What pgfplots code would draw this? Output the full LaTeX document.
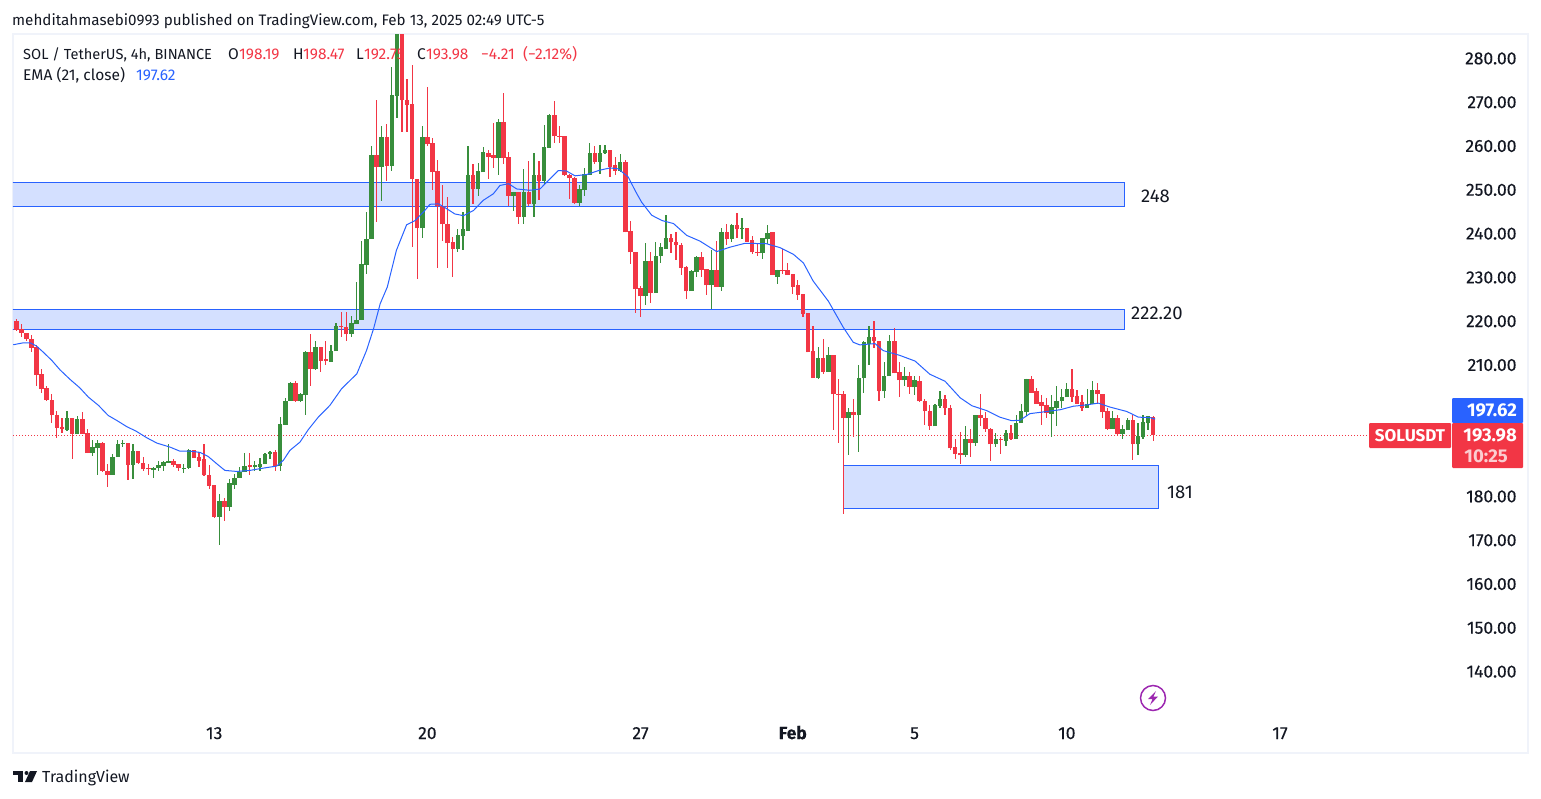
\documentclass[border=0pt]{standalone}
\usepackage{fontspec}
\setmainfont{Fira Sans}
\newfontfamily\med[FakeBold=0.25]{Fira Sans}
\usepackage{pgfplots}
\pgfplotsset{compat=1.18}
\usepackage{pgfplotstable}

\definecolor{tvred}{HTML}{F23645}
\definecolor{tvgreen}{HTML}{388E3C}
\definecolor{tvblue}{HTML}{2962FF}
\definecolor{tvzone}{HTML}{D4E0FF}
\definecolor{tvtext}{HTML}{131722}
\definecolor{tvframe}{HTML}{F0F3FA}
\definecolor{tvpurple}{HTML}{9C27B0}

% 4h candles: index, open, high, low, close
\pgfplotstableread{
i o h l c
0 220.0 220.4 217.7 218.1
1 218.3 219.3 216.4 217.3
2 217.4 217.4 215.6 215.9
3 216.0 216.8 213.0 213.9
4 214.1 214.5 205.3 207.7
5 207.9 209.2 203.6 204.5
6 204.7 205.1 201.9 202.0
7 202.1 203.3 196.8 198.5
8 198.7 199.6 193.3 195.7
9 195.8 198.0 194.5 195.5
11 197.8 198.0 188.5 194.2
13 197.6 199.2 194.2 194.2
14 194.4 195.5 189.9 189.9
17 192.3 192.4 185.7 185.8
18 185.9 187.5 182.1 184.9
22 192.1 192.2 183.7 187.2
24 190.3 190.4 187.5 187.6
25 187.7 188.9 185.8 186.2
26 186.4 187.4 185.0 186.2
31 188.2 188.6 186.7 187.2
32 187.3 187.4 185.8 186.5
35 190.5 190.6 188.8 188.8
36 188.9 190.1 186.7 188.2
37 188.5 192.0 184.6 184.8
38 185.0 187.1 181.7 182.4
39 182.5 182.5 175.2 175.3
41 178.9 179.7 174.5 177.6
46 187.2 190.0 184.8 186.8
51 190.1 190.7 185.9 186.9
55 205.8 206.3 201.5 201.8
58 212.9 217.2 205.3 209.0
60 214.2 214.2 208.5 211.0
61 211.3 215.4 209.9 211.0
64 218.9 222.2 216.5 218.7
65 218.6 222.0 215.6 217.0
71 257.9 270.6 242.6 255.2
73 262.0 265.1 252.1 255.4
76 290.0 291.0 263.2 270.4
77 270.6 275.4 263.2 269.4
78 269.5 278.4 237.0 252.4
79 252.4 252.4 229.6 241.2
81 262.0 273.4 260.1 260.4
82 260.6 261.8 250.0 254.0
83 254.2 256.9 232.1 246.3
84 246.4 251.0 238.3 242.1
85 242.3 248.4 232.1 237.8
86 238.0 239.2 230.0 236.6
90 253.5 256.0 246.7 250.1
93 258.5 259.0 252.4 257.6
94 257.9 265.2 254.9 257.2
96 265.4 272.0 255.8 257.2
97 257.4 258.6 246.4 248.7
99 249.6 249.6 242.3 243.9
101 249.4 256.5 246.4 246.7
103 253.3 256.5 247.6 252.1
106 267.0 270.2 260.8 262.2
107 262.4 264.5 260.8 262.2
108 262.2 262.4 253.1 253.3
109 253.5 253.7 248.0 252.6
110 252.8 252.9 246.7 247.1
114 258.5 259.9 255.9 256.3
117 259.0 259.0 252.9 255.3
118 255.6 257.6 253.3 254.4
120 256.3 256.7 240.3 240.3
121 240.5 242.8 233.0 235.7
122 235.9 235.9 221.8 227.3
123 227.5 228.0 220.9 225.7
125 233.7 235.9 224.1 226.4
129 238.9 240.0 235.5 238.0
130 238.2 240.3 233.9 237.3
131 237.5 237.8 230.5 232.1
132 232.3 232.7 225.0 226.8
135 234.6 235.9 230.2 231.8
136 232.0 232.0 226.1 228.2
138 231.8 238.4 227.9 227.9
140 240.3 242.1 237.3 238.7
142 241.9 244.8 239.1 241.0
144 241.2 241.2 238.2 238.2
145 238.5 239.4 235.3 235.7
146 235.7 237.7 235.0 235.5
149 240.3 240.3 230.5 230.5
151 231.8 236.6 230.7 231.4
152 231.6 233.2 230.5 230.5
153 230.7 230.7 226.3 227.9
154 228.2 229.5 224.8 226.1
155 226.3 226.3 220.9 221.6
156 221.8 221.8 212.9 212.9
157 213.1 219.0 207.0 207.0
159 211.7 215.9 207.9 208.5
161 212.2 212.2 195.1 203.3
162 203.4 206.7 192.3 203.3
163 203.5 204.0 175.9 197.8
165 199.2 202.2 193.5 198.5
169 216.3 220.0 214.0 215.4
170 215.6 215.6 201.9 204.0
173 215.6 218.4 208.1 208.1
174 208.3 210.6 202.6 206.5
176 207.4 208.3 203.5 204.9
178 206.3 207.6 201.5 201.7
179 201.7 202.2 196.4 199.4
180 199.6 200.8 195.1 196.0
183 202.2 203.1 198.7 200.1
184 200.3 200.8 190.5 191.0
185 191.2 193.0 188.5 189.8
186 190.0 194.6 187.5 189.4
188 193.2 195.3 189.1 192.3
190 198.5 203.5 196.0 197.8
191 198.0 199.2 194.6 195.3
192 195.5 195.7 188.2 191.9
194 193.0 193.5 189.8 192.8
196 194.4 196.4 192.8 193.2
200 206.9 207.4 203.7 203.7
201 204.0 204.7 201.2 201.2
202 201.5 203.1 196.4 200.6
203 200.8 202.4 197.8 199.0
208 204.6 209.0 201.5 202.8
209 203.0 204.4 201.2 201.2
210 201.5 203.1 199.4 200.3
213 204.4 206.0 201.2 203.3
214 203.5 203.5 197.8 199.2
215 199.4 200.1 195.3 195.5
217 198.0 198.5 193.9 194.2
220 197.4 198.5 188.4 191.9
224 198.19 198.47 192.75 193.98
}\redcandles

\pgfplotstableread{
i o h l c
10 195.2 199.6 194.9 197.8
12 194.2 198.3 194.2 197.6
15 189.9 192.8 189.2 191.2
16 191.0 192.9 185.0 192.3
19 184.9 189.6 184.9 189.1
20 189.0 192.9 189.0 191.9
21 192.0 192.9 191.3 192.1
23 187.2 192.0 184.0 190.3
27 186.0 186.8 184.2 186.6
28 186.4 188.2 185.8 187.1
29 186.9 188.2 185.8 187.8
30 187.6 191.9 187.6 188.2
33 186.5 187.3 185.3 186.6
34 186.5 190.9 186.3 190.5
40 175.3 180.5 168.8 178.9
42 177.6 183.9 176.7 183.0
43 182.7 185.2 181.7 184.2
44 184.2 186.8 184.1 185.6
45 185.5 190.0 185.5 187.0
47 186.7 188.1 185.9 187.1
48 186.8 188.8 185.9 187.5
49 187.4 189.9 187.3 189.7
50 189.7 190.4 188.5 190.1
52 186.9 198.1 185.9 196.6
53 196.4 202.4 196.4 201.9
54 201.8 206.1 201.7 205.8
56 201.7 203.6 201.5 203.3
57 203.1 213.1 198.5 212.9
59 209.0 215.4 208.8 214.2
62 210.8 214.5 210.8 213.3
63 213.1 219.7 213.1 218.8
66 217.0 221.3 216.5 219.5
67 219.3 228.9 219.3 220.3
68 220.3 238.3 220.2 233.0
69 232.8 244.9 230.8 238.8
70 238.7 260.1 238.7 257.9
72 255.2 264.6 247.4 262.0
74 255.4 278.0 254.3 271.6
75 271.4 292.0 266.3 290.0
80 241.2 264.5 239.1 262.0
87 236.6 241.0 235.7 239.6
88 239.4 244.9 236.2 241.0
89 240.7 260.1 240.5 253.5
91 250.1 256.1 248.5 254.2
92 254.0 259.8 254.0 258.6
95 257.2 266.2 253.3 265.4
98 248.7 249.6 245.1 249.6
100 243.9 254.8 242.3 249.4
102 246.7 258.5 243.7 253.3
104 252.1 264.7 251.0 259.7
105 259.5 267.4 259.5 267.0
111 247.1 251.0 246.4 250.1
112 249.9 254.9 248.5 253.7
113 253.5 260.8 253.3 258.5
115 256.3 260.2 253.7 258.5
116 258.3 260.2 258.2 259.0
119 254.4 258.1 254.0 256.3
124 225.7 237.8 223.8 233.7
126 226.4 238.0 226.4 235.0
127 234.8 237.8 233.2 236.9
128 236.6 244.2 236.6 238.9
133 226.8 231.6 226.8 231.4
134 231.2 234.8 230.0 234.6
137 228.2 236.2 222.7 231.8
139 227.9 241.2 226.8 240.3
141 238.7 242.1 238.0 241.9
143 241.0 243.5 238.7 241.2
147 235.5 239.1 234.3 238.9
148 238.7 241.9 237.7 240.1
150 230.2 231.8 228.4 231.8
158 207.0 214.1 206.7 211.7
160 208.5 214.2 208.3 212.2
164 197.8 200.1 189.4 199.2
166 198.5 210.1 190.1 207.1
167 207.0 215.4 203.7 215.2
168 214.9 218.8 209.9 216.3
171 204.0 210.8 202.4 207.6
172 207.4 216.8 207.4 215.6
175 206.5 209.5 205.1 207.4
177 204.9 207.4 203.1 206.5
181 196.0 201.2 196.0 200.8
182 200.6 204.0 200.3 202.2
187 189.4 196.0 189.1 193.2
189 192.3 198.7 191.6 198.5
193 191.9 194.4 191.4 193.0
195 192.6 195.1 191.6 194.4
197 193.2 198.5 193.2 196.8
198 196.7 201.0 196.7 199.4
199 199.2 206.9 198.3 206.9
204 198.9 203.1 193.5 200.5
205 200.3 205.1 196.0 201.9
206 201.7 204.6 200.1 202.8
207 202.6 206.0 202.6 204.6
211 200.3 204.6 200.1 201.2
212 201.0 206.3 201.0 204.4
216 195.5 199.6 195.5 198.0
218 194.2 196.2 193.2 195.3
219 195.1 198.0 195.1 197.4
221 191.9 196.7 189.4 193.7
222 193.5 198.5 193.0 196.9
223 196.7 198.3 195.1 198.3
}\greencandles

\newcommand{\txt}[4][tvtext]{\node[anchor=base west,inner sep=0pt,text=#1] at (#2pt,-#3pt) {#4};}

\begin{document}
\begin{tikzpicture}
\path (0pt,0pt) rectangle (1541pt,-798pt);
\begin{axis}[
    at={(13pt,-34pt)}, anchor=north west,
    scale only axis,
    width=1515pt, height=719pt,
    xmin=-0.65, xmax=297.87,
    ymin=121.42, ymax=285.58,
    axis line style={color=tvframe, line width=2pt},
    tick style={draw=none},
    xtick={39,81,123,153,177,207,249},
    xticklabels={13,20,27,\textbf{Feb},5,10,17},
    xticklabel style={anchor=base, yshift=14pt, text=tvtext, font=\fontsize{17.5}{20}\med},
    ytick={140,150,160,170,180,210,220,230,240,250,260,270,280},
    yticklabel pos=right,
    yticklabel style={anchor=east, xshift=-8pt, text=tvtext, font=\fontsize{17.5}{20}\med,
        /pgf/number format/.cd, fixed, fixed zerofill, precision=2, assume math mode=true},
]
% zones
\addplot[draw=none, fill=tvzone, forget plot] coordinates {(-5,251.6)(218.26,251.6)(218.26,246.3)(-5,246.3)} -- cycle;
\addplot[draw=none, fill=tvzone, forget plot] coordinates {(-5,222.6)(218.26,222.6)(218.26,218.05)(-5,218.05)} -- cycle;
\addplot[draw=none, fill=tvzone, forget plot] coordinates {(163,187)(225,187)(225,177.2)(163,177.2)} -- cycle;
\addplot[draw=tvblue, line width=1pt, forget plot] coordinates {(-5,251.6)(218.26,251.6)(218.26,246.3)(-5,246.3)};
\addplot[draw=tvblue, line width=1pt, forget plot] coordinates {(-5,222.6)(218.26,222.6)(218.26,218.05)(-5,218.05)};
\addplot[draw=tvblue, line width=1pt, forget plot] coordinates {(163,187)(225,187)(225,177.2)(163,177.2)};
% last price line
\addplot[tvred, line width=1pt, dash pattern=on 1pt off 2pt, forget plot] coordinates {(-0.65,193.98)(266.3,193.98)};
% wicks
\addplot[draw=none, forget plot, error bars/.cd, y dir=both, y explicit, error mark=none,
    error bar style={draw=tvred, line width=1.2pt}]
    table[x=i, y=c, y error plus expr=\thisrow{h}-\thisrow{c}, y error minus expr=\thisrow{c}-\thisrow{l}] {\redcandles};
\addplot[draw=none, forget plot, error bars/.cd, y dir=both, y explicit, error mark=none,
    error bar style={draw=tvgreen, line width=1.2pt}]
    table[x=i, y=c, y error plus expr=\thisrow{h}-\thisrow{c}, y error minus expr=\thisrow{c}-\thisrow{l}] {\greencandles};
% bodies
\addplot[draw=none, forget plot, error bars/.cd, y dir=plus, y explicit, error mark=none,
    error bar style={draw=tvred, line width=4.5pt}]
    table[x=i, y=c, y error plus expr=\thisrow{o}-\thisrow{c}] {\redcandles};
\addplot[draw=none, forget plot, error bars/.cd, y dir=plus, y explicit, error mark=none,
    error bar style={draw=tvgreen, line width=4.5pt}]
    table[x=i, y=o, y error plus expr=\thisrow{c}-\thisrow{o}] {\greencandles};
% EMA 21
\addplot[tvblue, line width=1pt, forget plot] coordinates {
(-0.6,214.63)(1.4,215.08)(2.7,215.08)(4.0,214.32)(5.3,212.95)(7.0,211.05)(8.6,208.92)(10.6,206.71)
(12.5,204.81)(14.2,202.68)(16.2,200.78)(18.1,198.49)(19.8,197.35)(21.7,195.98)(23.7,194.84)(25.7,193.4)
(27.7,192.18)(30.3,191.26)(32.2,190.35)(34.2,190.35)(36.2,190.05)(37.8,189.13)(39.5,187.46)(41.1,185.94)
(43.4,185.71)(46.0,185.94)(48.7,186.47)(51.3,186.93)(52.6,188.22)(53.9,190.5)(55.9,192.41)(57.5,195.2)
(59.5,198.1)(61.8,200.8)(64.1,204.6)(67.1,208.0)(69.0,213.3)(70.4,218.3)(71.7,224.0)(73.1,227.8)
(74.9,236.2)(76.9,242.0)(78.6,243.0)(80.5,245.3)(81.5,246.7)(83.2,246.8)(84.8,245.7)(86.4,244.5)
(88.1,244.1)(90.1,245.3)(92.0,247.6)(94.0,249.1)(95.3,251.0)(97.0,251.4)(98.6,250.2)(101.2,249.9)
(103.2,250.2)(104.8,252.1)(106.8,254.4)(108.4,254.3)(110.1,253.2)(112.4,253.5)(115.0,254.5)(117.0,255.0)
(118.6,254.8)(120.6,252.9)(121.9,249.9)(123.2,247.2)(125.2,244.2)(127.2,243.0)(129.5,242.3)(132.1,239.6)
(134.7,238.3)(138.0,235.9)(140.6,236.9)(143.6,237.8)(147.8,237.7)(150.5,236.8)(153.1,235.3)(155.1,233.3)
(157.0,229.2)(160.0,224.6)(162.9,218.7)(164.9,215.2)(166.2,214.6)(169.2,214.9)(170.8,213.3)(174.1,212.2)
(177.1,210.9)(180.0,207.9)(183.0,206.3)(186.0,202.5)(188.3,200.7)(191.2,199.6)(193.8,198.1)(196.1,197.3)
(197.8,197.4)(199.7,198.9)(202.4,199.3)(205.7,199.8)(208.3,200.6)(210.9,200.9)(213.2,201.3)(215.5,200.4)
(218.8,199.4)(221.1,198.1)(223.4,198.0)(224.4,197.65)
};
\end{axis}

% header
\fontsize{15.2}{18}\selectfont
\txt{12}{25}{mehditahmasebi0993 published on TradingView.com, Feb 13, 2025 02:49 UTC-5}
\fontsize{14.6}{18}\selectfont
\txt{23}{59}{SOL / TetherUS, 4h, BINANCE}
\fontsize{15.5}{18}\selectfont
\txt{228}{59}{O}\txt[tvred]{239}{59}{198.19}
\txt{293}{59}{H}\txt[tvred]{303}{59}{198.47}
\txt{356}{59}{L}\txt[tvred]{364}{59}{192.75}
\txt{417}{59}{C}\txt[tvred]{426}{59}{193.98}
\txt[tvred]{481}{59}{−4.21}\txt[tvred]{523}{59}{(−2.12\%)}
\txt{23}{80}{EMA (21, close)}\txt[tvblue]{136}{80}{197.62}

% zone labels
\fontsize{18.5}{22}\selectfont
\txt{1141}{202}{248}
\txt{1131}{319}{222.20}
\txt{1167}{498}{181}

% price scale labels
\fill[tvblue, rounded corners=1pt] (1452pt,-398pt) rectangle (1523pt,-423pt);
\fill[tvred, rounded corners=1pt] (1452pt,-423pt) rectangle (1523pt,-468pt);
\fill[tvred, rounded corners=1pt] (1369pt,-423pt) rectangle (1451pt,-448pt);
\fontsize{18.5}{20}\selectfont
\node[text=white, anchor=base east, inner sep=0pt, font=\bfseries] at (1517pt,-416pt) {197.62};
\node[text=white, anchor=base east, inner sep=0pt, font=\bfseries] at (1517pt,-441pt) {193.98};
\node[text=white, opacity=.75, anchor=base east, inner sep=0pt, font=\bfseries] at (1508pt,-462pt) {10:25};
\fontsize{17}{20}\selectfont
\node[text=white, anchor=base, inner sep=0pt, font=\bfseries] at (1410pt,-441pt) {SOLUSDT};

% bolt icon
\draw[tvpurple, line width=1.5pt] (1153pt,-698pt) circle (12.5pt);
\fill[tvpurple] (1156pt,-691pt) -- (1148pt,-699pt) -- (1152.5pt,-699pt) -- (1150pt,-705pt) -- (1158pt,-696.5pt) -- (1153.5pt,-696.5pt) -- cycle;

% logo
\fill[tvtext] (13pt,-771pt) rectangle (23pt,-775pt);
\fill[tvtext] (18pt,-775pt) rectangle (23pt,-782pt);
\fill[tvtext] (26.5pt,-773pt) circle (2pt);
\fill[tvtext] (30pt,-771pt) -- (37pt,-771pt) -- (32pt,-782pt) -- (25pt,-782pt) -- cycle;
\fontsize{16}{19}\selectfont
\txt{42}{782}{TradingView}
\end{tikzpicture}
\end{document}
